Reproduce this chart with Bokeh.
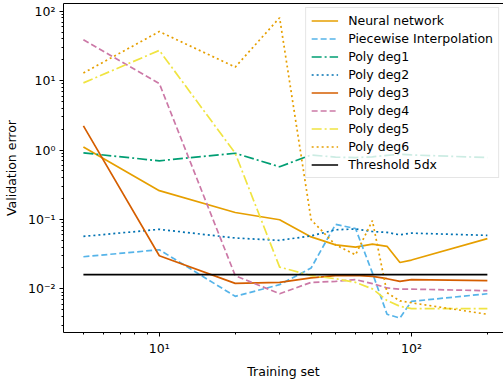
from bokeh.plotting import figure
from bokeh.models import FixedTicker, LogAxis, Legend, LegendItem, Range1d
from bokeh.embed import file_html
from bokeh.resources import INLINE

# ---- data ----
train = [5, 10, 20, 30, 40, 50, 60, 70, 80, 90, 100, 200]
neural = [1.11, 0.26, 0.126, 0.099, 0.056, 0.043, 0.040, 0.044, 0.041, 0.024, 0.026, 0.053]
piecewise = [0.029, 0.0366, 0.0078, 0.0115, 0.020, 0.085, 0.074, 0.017, 0.0043, 0.0038, 0.0066, 0.0085]
deg1 = [0.91, 0.70, 0.90, 0.575, 0.85, 0.79, 0.78, 0.80, 0.84, 0.87, 0.85, 0.78]
deg2 = [0.057, 0.072, 0.054, 0.050, 0.058, 0.071, 0.073, 0.067, 0.065, 0.060, 0.0635, 0.059]
deg3 = [2.23, 0.030, 0.012, 0.0124, 0.0144, 0.0155, 0.0156, 0.0151, 0.014, 0.0128, 0.0136, 0.0131]
deg4 = [39.0, 9.1, 0.0155, 0.0085, 0.0124, 0.0128, 0.0136, 0.0119, 0.0103, 0.0099, 0.0099, 0.0094]
deg5 = [9.3, 27.3, 0.90, 0.0206, 0.0155, 0.014, 0.0124, 0.010, 0.0068, 0.0056, 0.0052, 0.0052]
deg6 = [12.9, 51.0, 15.7, 80.7, 0.099, 0.043, 0.031, 0.096, 0.0088, 0.0067, 0.0063, 0.0043]
threshold_x = [5, 200]
threshold_y = [0.016, 0.016]

x_major = [10, 100]
x_major_labels = ["10¹", "10²"]
x_minor = [5, 6, 7, 8, 9, 20, 30, 40, 50, 60, 70, 80, 90, 200]
y_major = [0.01, 0.1, 1, 10, 100]
y_major_labels = ["10⁻²", "10⁻¹", "10⁰", "10¹", "10²"]
y_minor = [0.003, 0.004, 0.005, 0.006, 0.007, 0.008, 0.009,
           0.02, 0.03, 0.04, 0.05, 0.06, 0.07, 0.08, 0.09,
           0.2, 0.3, 0.4, 0.5, 0.6, 0.7, 0.8, 0.9,
           2, 3, 4, 5, 6, 7, 8, 9,
           20, 30, 40, 50, 60, 70, 80, 90]

FONT = "DejaVu Sans"
FS = "12.5px"

p = figure(width=503, height=381, x_axis_type="log", y_axis_type="log",
           x_range=Range1d(10 ** 0.620, 10 ** 2.365),
           y_range=Range1d(10 ** -2.629, 10 ** 2.112),
           output_backend="svg", toolbar_location=None,
           min_border_left=62, min_border_right=0, min_border_top=3, min_border_bottom=48)
p.outline_line_color = None
p.grid.visible = False
p.background_fill_color = "white"
p.border_fill_color = "white"

LW = 1.7
series = [
    ("Neural network", neural, "#E69F00", "solid"),
    ("Piecewise Interpolation", piecewise, "#56B4E9", "6 3"),
    ("Poly deg1", deg1, "#009E73", "10 3 2 3"),
    ("Poly deg2", deg2, "#0072B2", "2 3"),
    ("Poly deg3", deg3, "#D55E00", "solid"),
    ("Poly deg4", deg4, "#CC79A7", "6 3"),
    ("Poly deg5", deg5, "#F0E442", "10 3 2 3"),
    ("Poly deg6", deg6, "#E69F00", "2 3"),
]
items = []
for name, ys, col, dash in series:
    r = p.line(train, ys, line_color=col, line_width=LW, line_dash=dash)
    items.append(LegendItem(label=name, renderers=[r]))
rt = p.line(threshold_x, threshold_y, line_color="black", line_width=LW)
items.append(LegendItem(label="Threshold 5dx", renderers=[rt]))

for ax, major, labels, minor in ((p.xaxis[0], x_major, x_major_labels, x_minor),
                                 (p.yaxis[0], y_major, y_major_labels, y_minor)):
    ax.ticker = FixedTicker(ticks=major, minor_ticks=minor)
    ax.major_label_overrides = {t: l for t, l in zip(major, labels)}
    ax.major_tick_in = 0
    ax.major_tick_out = 4
    ax.minor_tick_in = 0
    ax.minor_tick_out = 2
    ax.axis_line_color = "black"
    ax.major_tick_line_color = "black"
    ax.minor_tick_line_color = "black"
    ax.major_label_text_font = FONT
    ax.major_label_text_font_size = FS
    ax.major_label_text_color = "black"
    ax.axis_label_text_font = FONT
    ax.axis_label_text_font_size = FS
    ax.axis_label_text_font_style = "normal"
    ax.axis_label_text_color = "black"
    ax.major_label_standoff = 4

p.xaxis[0].axis_label = "Training set"
p.yaxis[0].axis_label = "Validation error"
p.xaxis[0].axis_label_standoff = 5
p.yaxis[0].axis_label_standoff = 6

top = LogAxis(ticker=FixedTicker(ticks=[]), major_label_text_font_size="0px",
              major_tick_line_color=None, minor_tick_line_color=None,
              axis_line_color="black", major_tick_out=0, minor_tick_out=0)
p.add_layout(top, "above")

legend = Legend(items=items, location="top_right")
legend.label_text_font = FONT
legend.label_text_font_size = FS
legend.label_text_color = "black"
legend.glyph_width = 27
legend.glyph_height = 15
legend.label_height = 15
legend.label_standoff = 10
legend.spacing = 3
legend.padding = 5
legend.margin = 4
legend.border_line_color = "#cccccc"
legend.border_line_width = 1
legend.background_fill_color = "white"
legend.background_fill_alpha = 0.8
p.add_layout(legend, "center")

open("out.html", "w").write(file_html(p, INLINE))
